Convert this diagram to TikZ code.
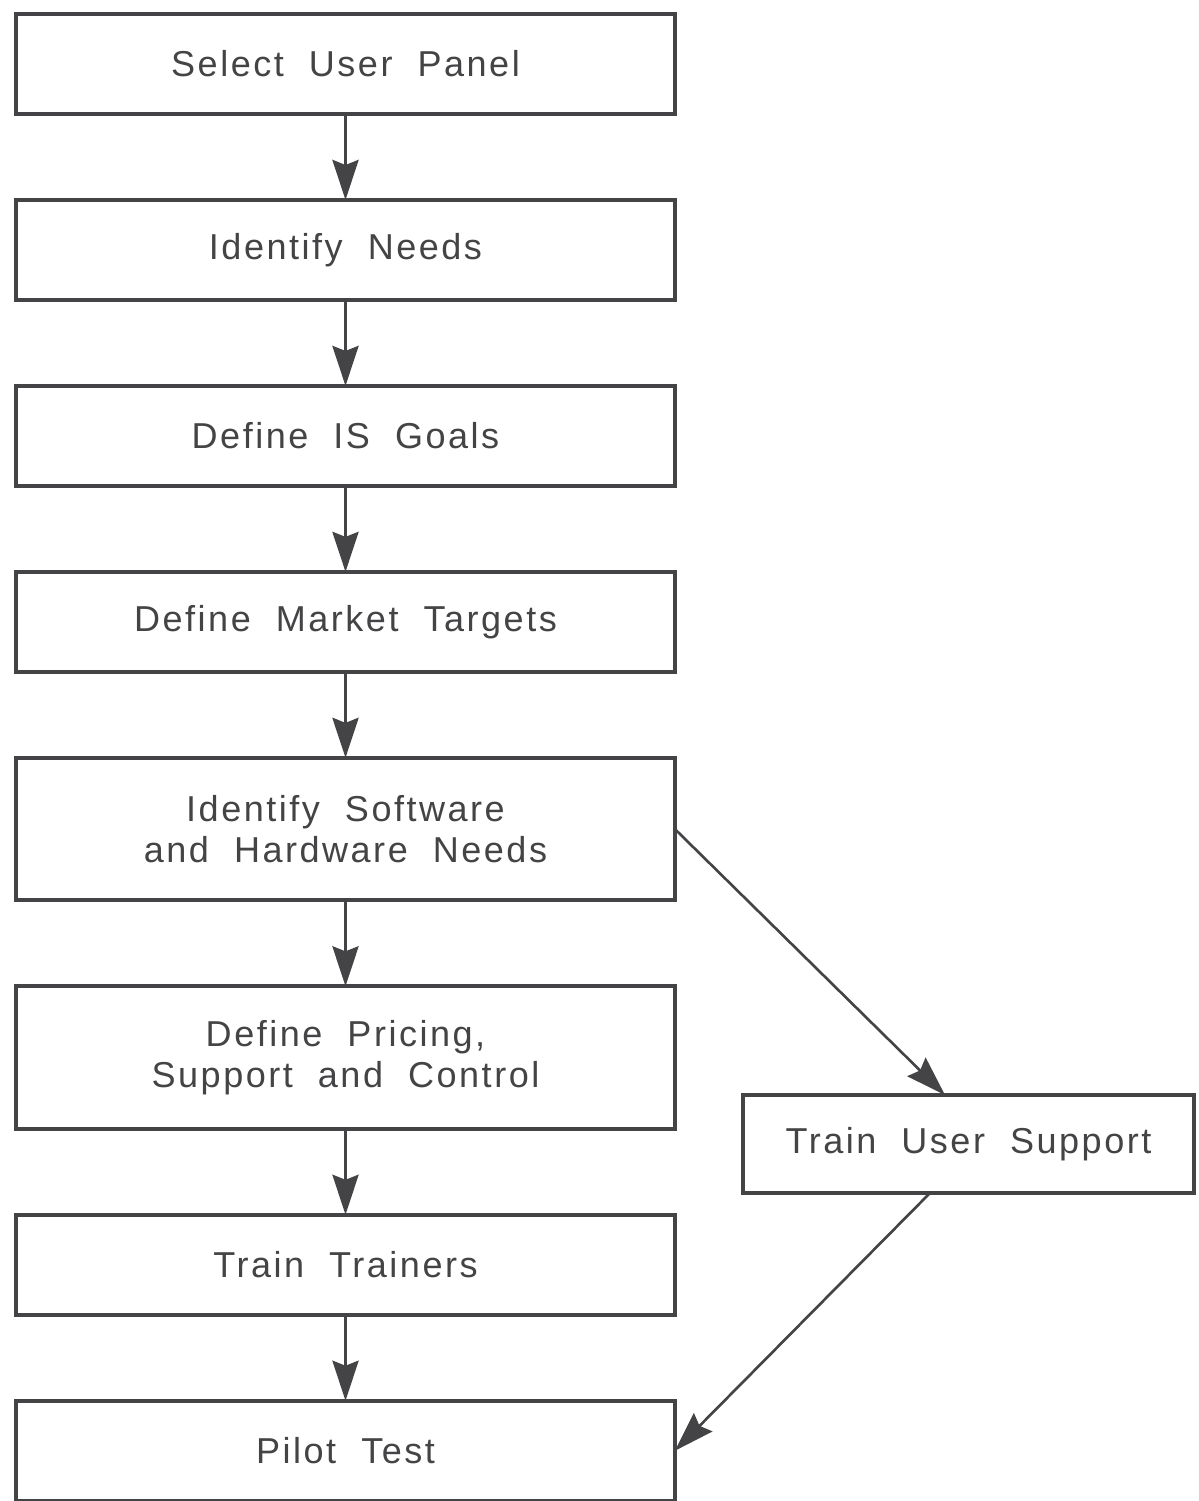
\documentclass[tikz,border=0pt]{standalone}
\usepackage{fontspec}
\setmainfont{Liberation Sans}[LetterSpace=7,WordSpace=2]
\usetikzlibrary{positioning,arrows.meta}
\definecolor{ink}{RGB}{68,68,70}

\begin{document}
\begin{tikzpicture}[x=0.02cm,y=-0.02cm,node distance=1.72cm,
  stage/.style={draw=ink,line width=2.2pt,outer sep=0pt,minimum width=13.18cm,
    minimum height=2cm,align=center,text=ink,font=\fontsize{20.5}{23}\selectfont},
  tall/.style={minimum height=2.85cm},
  flow/.style={color=ink,line width=2pt,-{Stealth[length=0.8cm,width=0.52cm,inset=0.1cm]}}]
\useasboundingbox (0,0) rectangle (1199,1501);
\node[stage] (panel) at (345.5,64) {Select User Panel};
\node[stage,below=of panel] (needs) {Identify Needs};
\node[stage,below=of needs] (goals) {Define IS Goals};
\node[stage,below=of goals] (market) {Define Market Targets};
\node[stage,tall,below=of market] (ware) {Identify Software\\and Hardware Needs};
\node[stage,tall,below=of ware] (pricing) {Define Pricing,\\Support and Control};
\node[stage,below=of pricing] (trainers) {Train Trainers};
\node[stage,below=of trainers] (pilot) {Pilot Test};
\node[stage,minimum width=9.02cm,minimum height=1.96cm] (support) at (968.5,1144) {Train User Support};
\path[flow]
(panel)    edge (needs)
(needs)    edge (goals)
(goals)    edge (market)
(market)   edge (ware)
(ware)     edge (pricing)
(pricing)  edge (trainers)
(trainers) edge (pilot)
(ware.east) edge[line width=1.5pt] ([xshift=-0.47cm]support.north)
([xshift=-0.77cm]support.south) edge[line width=1.5pt] (pilot.east)
;
\end{tikzpicture}
\end{document}
